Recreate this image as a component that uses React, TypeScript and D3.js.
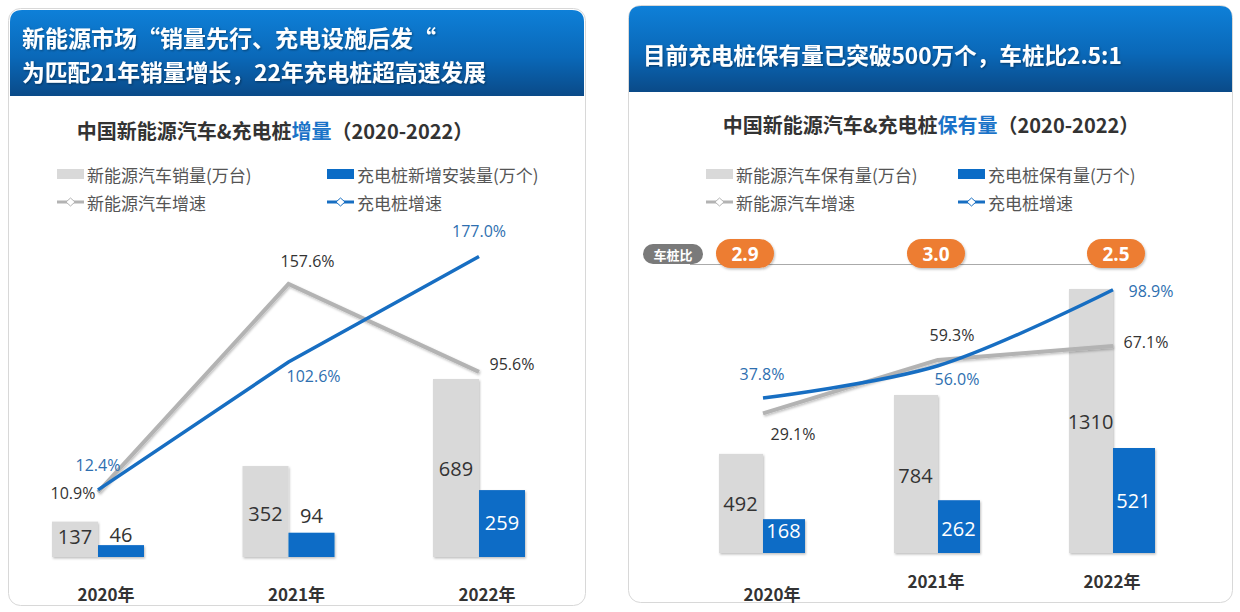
import React from "react";
import * as d3 from "d3";

const years = ["2020年", "2021年", "2022年"];
const salesIncrement = [137, 352, 689];
const pileIncrement = [46, 94, 259];
const salesGrowth = [10.9, 157.6, 95.6];
const pileIncGrowth = [12.4, 102.6, 177.0];
const carStock = [492, 784, 1310];
const pileStock = [168, 262, 521];
const carStockGrowth = [29.1, 59.3, 67.1];
const pileStockGrowth = [37.8, 56.0, 98.9];
const ratioLabels = ["2.9", "3.0", "2.5"];

const CJK = "'Noto Sans CJK SC', 'Noto Sans', sans-serif";
const NUM = "'Open Sans', 'Noto Sans', sans-serif";
const GREY = "#d9d9d9";
const BLUE = "#0b6cc6";
const LINE_GREY = "#b3b3b3";
const LINE_BLUE = "#176ec2";
const TXT = "#333";
const TXT_BLUE = "#2e6fb0";
const ORANGE = "#ed7d31";

function LegendBox({ x, y, color, label }: any) {
  return (
    <g>
      <rect x={x} y={y - 5} width={27} height={10} fill={color} />
      <text x={x + 30} y={y} dominantBaseline="central" fontSize={17} fill="#555" fontFamily={CJK}>{label}</text>
    </g>
  );
}
function LegendLine({ x, y, color, label }: any) {
  return (
    <g>
      <line x1={x} x2={x + 27} y1={y} y2={y} stroke={color} strokeWidth={3} />
      <path d={`M${x + 9},${y} L${x + 13.5},${y - 4} L${x + 18},${y} L${x + 13.5},${y + 4} Z`} fill="#fff" stroke={color} strokeWidth={1} />
      <text x={x + 30} y={y} dominantBaseline="central" fontSize={17} fill="#555" fontFamily={CJK}>{label}</text>
    </g>
  );
}

export default function App() {
  // Left chart scales
  const xL = d3.scalePoint<string>().domain(years).range([98, 479]);
  const yLB = d3.scaleLinear().domain([0, 689]).range([557, 379]);
  const yLL = d3.scaleLinear().domain([0, 177]).range([507.5, 256.5]);
  const bwL = 46;
  const lineL = d3.line<number>().x((_, i) => xL(years[i])!).y((d) => yLL(d));

  // Right chart scales
  const xR = d3.scalePoint<string>().domain(years).range([763, 1113]);
  const yRB = d3.scaleLinear().domain([0, 1310]).range([553, 289]);
  const yRL = d3.scaleLinear().domain([0, 98.9]).range([464.9, 289.8]);
  const bwR = 43;
  const lineRGrey = d3.line<number>().x((_, i) => xR(years[i])!).y((d) => yRL(d));
  const lineRBlue = d3.line<number>().x((_, i) => xR(years[i])!).y((d) => yRL(d)).curve(d3.curveCatmullRom.alpha(0.5));

  const lGreyLabelPos = [
    { dx: -25, dy: 1 },
    { dx: 19, dy: -23 },
    { dx: 33, dy: -8 },
  ];
  const lBlueLabelPos = [
    { dx: 0, dy: -25 },
    { dx: 25, dy: 14 },
    { dx: 0, dy: -26 },
  ];
  const rGreyLabelPos = [
    { dx: 30, dy: 21 },
    { dx: 14, dy: -25 },
    { dx: 33, dy: -4 },
  ];
  const rBlueLabelPos = [
    { dx: -1, dy: -24 },
    { dx: 19, dy: 13 },
    { dx: 38, dy: 1 },
  ];
  const rBarLabelY = [
    [503, 530],
    [475, 528],
    [421, 500],
  ];
  const lBarLabelY = [
    [536, 534],
    [513, 515],
    [468, 522],
  ];
  const lBlueInside = [false, false, true];

  return (
    <svg width={1240} height={612} style={{ position: "absolute", left: 0, top: 0, background: "#fff" }}>
      <defs>
        <linearGradient id="hdr" x1="0" y1="0" x2="0" y2="1">
          <stop offset="0%" stopColor="#0e80d8" />
          <stop offset="55%" stopColor="#0a68b8" />
          <stop offset="100%" stopColor="#0a4a88" />
        </linearGradient>
        <filter id="sh" x="-20%" y="-20%" width="140%" height="140%">
          <feDropShadow dx="1" dy="1.5" stdDeviation="1.2" floodColor="#000" floodOpacity="0.25" />
        </filter>
        <filter id="tsh" x="-10%" y="-10%" width="120%" height="130%">
          <feDropShadow dx="1" dy="1" stdDeviation="0.8" floodColor="#000" floodOpacity="0.4" />
        </filter>
      </defs>

      {/* Left panel */}
      <rect x={8.5} y={8.5} width={577} height={597} fill="#fff" stroke="#d8d8d8" rx={12} />
      <path d="M10,96 L10,22 Q10,10 22,10 L572,10 Q584,10 584,22 L584,96 Z" fill="url(#hdr)" />
      <text x={22} y={47} fontSize={23} fontWeight={700} fill="#fff" fontFamily={CJK} filter="url(#tsh)">新能源市场“销量先行、充电设施后发“</text>
      <text x={22} y={81} fontSize={22.8} fontWeight={700} fill="#fff" fontFamily={CJK} filter="url(#tsh)">为匹配21年销量增长，22年充电桩超高速发展</text>
      <text x={275} y={130} textAnchor="middle" dominantBaseline="central" fontSize={20} fontWeight={700} fill={TXT} fontFamily={CJK}>
        中国新能源汽车&amp;充电桩<tspan fill="#1a73c8">增量</tspan>（2020-2022）
      </text>
      <LegendBox x={57} y={174} color={GREY} label="新能源汽车销量(万台)" />
      <LegendBox x={327} y={174} color={BLUE} label="充电桩新增安装量(万个)" />
      <LegendLine x={57} y={202} color={LINE_GREY} label="新能源汽车增速" />
      <LegendLine x={327} y={202} color={LINE_BLUE} label="充电桩增速" />

      {years.map((yr, i) => {
        const cx = xL(yr)!;
        return (
          <g key={"lb" + i}>
            <rect x={cx - bwL} y={yLB(salesIncrement[i])} width={bwL} height={yLB(0) - yLB(salesIncrement[i])} fill={GREY} filter="url(#sh)" />
            <rect x={cx} y={yLB(pileIncrement[i])} width={bwL} height={yLB(0) - yLB(pileIncrement[i])} fill={BLUE} filter="url(#sh)" />
            <text x={cx - bwL / 2} y={lBarLabelY[i][0]} textAnchor="middle" dominantBaseline="central" fontSize={20} fill={TXT} fontFamily={NUM}>{salesIncrement[i]}</text>
            <text x={cx + bwL / 2} y={lBarLabelY[i][1]} textAnchor="middle" dominantBaseline="central" fontSize={20} fill={lBlueInside[i] ? "#fff" : TXT} fontFamily={NUM}>{pileIncrement[i]}</text>
            <text x={cx + 8} y={593} textAnchor="middle" dominantBaseline="central" fontSize={17} fontWeight={700} fill={TXT} fontFamily={CJK}>{yr}</text>
          </g>
        );
      })}
      <path d={lineL(salesGrowth)!} fill="none" stroke={LINE_GREY} strokeWidth={4} filter="url(#sh)" />
      <path d={lineL(pileIncGrowth)!} fill="none" stroke={LINE_BLUE} strokeWidth={3.5} />
      {years.map((yr, i) => (
        <g key={"ll" + i}>
          <text x={xL(yr)! + lGreyLabelPos[i].dx} y={yLL(salesGrowth[i]) + lGreyLabelPos[i].dy} textAnchor="middle" dominantBaseline="central" fontSize={16} fill={TXT} fontFamily={NUM}>{salesGrowth[i].toFixed(1)}%</text>
          <text x={xL(yr)! + lBlueLabelPos[i].dx} y={yLL(pileIncGrowth[i]) + lBlueLabelPos[i].dy} textAnchor="middle" dominantBaseline="central" fontSize={16} fill={TXT_BLUE} fontFamily={NUM}>{pileIncGrowth[i].toFixed(1)}%</text>
        </g>
      ))}

      {/* Right panel */}
      <rect x={628.5} y={5.5} width={604} height={597} fill="#fff" stroke="#d8d8d8" rx={12} />
      <path d="M629,92 L629,18 Q629,6 641,6 L1220,6 Q1232,6 1232,18 L1232,92 Z" fill="url(#hdr)" />
      <text x={643} y={54} dominantBaseline="central" fontSize={22.6} fontWeight={700} fill="#fff" fontFamily={CJK} filter="url(#tsh)">目前充电桩保有量已突破500万个，车桩比2.5:1</text>
      <text x={931} y={124} textAnchor="middle" dominantBaseline="central" fontSize={20} fontWeight={700} fill={TXT} fontFamily={CJK}>
        中国新能源汽车&amp;充电桩<tspan fill="#1a73c8">保有量</tspan>（2020-2022）
      </text>
      <LegendBox x={706} y={174} color={GREY} label="新能源汽车保有量(万台)" />
      <LegendBox x={958} y={174} color={BLUE} label="充电桩保有量(万个)" />
      <LegendLine x={706} y={202} color={LINE_GREY} label="新能源汽车增速" />
      <LegendLine x={958} y={202} color={LINE_BLUE} label="充电桩增速" />

      {/* ratio row */}
      <line x1={690} x2={1117} y1={264.5} y2={264.5} stroke="#aaa" strokeWidth={1} />
      <rect x={643} y={244} width={60} height={20} rx={10} fill="#7a7a7a" />
      <text x={673} y={254} textAnchor="middle" dominantBaseline="central" fontSize={13} fontWeight={700} fill="#fff" fontFamily={CJK}>车桩比</text>
      {years.map((yr, i) => {
        const cx = xR(yr)! + [-18, -2, 3][i];
        return (
          <g key={"rt" + i}>
            <rect x={cx - 29} y={239} width={58} height={29} rx={14.5} fill={ORANGE} filter="url(#sh)" />
            <text x={cx} y={254} textAnchor="middle" dominantBaseline="central" fontSize={19} fontWeight={700} fill="#fff" fontFamily={NUM}>{ratioLabels[i]}</text>
          </g>
        );
      })}

      {years.map((yr, i) => {
        const cx = xR(yr)!;
        return (
          <g key={"rb" + i}>
            <rect x={cx - bwR - 1} y={yRB(carStock[i])} width={bwR + 1} height={yRB(0) - yRB(carStock[i])} fill={GREY} filter="url(#sh)" />
            <rect x={cx} y={yRB(pileStock[i])} width={bwR - 1} height={yRB(0) - yRB(pileStock[i])} fill={BLUE} filter="url(#sh)" />
            <text x={cx - bwR / 2 - 1} y={rBarLabelY[i][0]} textAnchor="middle" dominantBaseline="central" fontSize={20} fill={TXT} fontFamily={NUM}>{carStock[i]}</text>
            <text x={cx + bwR / 2 - 1} y={rBarLabelY[i][1]} textAnchor="middle" dominantBaseline="central" fontSize={20} fill="#fff" fontFamily={NUM}>{pileStock[i]}</text>
            <text x={cx + [9, -2, -1][i]} y={i === 0 ? 593 : 580} textAnchor="middle" dominantBaseline="central" fontSize={17} fontWeight={700} fill={TXT} fontFamily={CJK}>{yr}</text>
          </g>
        );
      })}
      <path d={lineRGrey(carStockGrowth)!} fill="none" stroke={LINE_GREY} strokeWidth={4} strokeLinejoin="round" filter="url(#sh)" />
      <path d={lineRBlue(pileStockGrowth)!} fill="none" stroke={LINE_BLUE} strokeWidth={3.5} />
      {years.map((yr, i) => (
        <g key={"rl" + i}>
          <text x={xR(yr)! + rGreyLabelPos[i].dx} y={yRL(carStockGrowth[i]) + rGreyLabelPos[i].dy} textAnchor="middle" dominantBaseline="central" fontSize={16} fill={TXT} fontFamily={NUM}>{carStockGrowth[i].toFixed(1)}%</text>
          <text x={xR(yr)! + rBlueLabelPos[i].dx} y={yRL(pileStockGrowth[i]) + rBlueLabelPos[i].dy} textAnchor="middle" dominantBaseline="central" fontSize={16} fill={TXT_BLUE} fontFamily={NUM}>{pileStockGrowth[i].toFixed(1)}%</text>
        </g>
      ))}
    </svg>
  );
}
